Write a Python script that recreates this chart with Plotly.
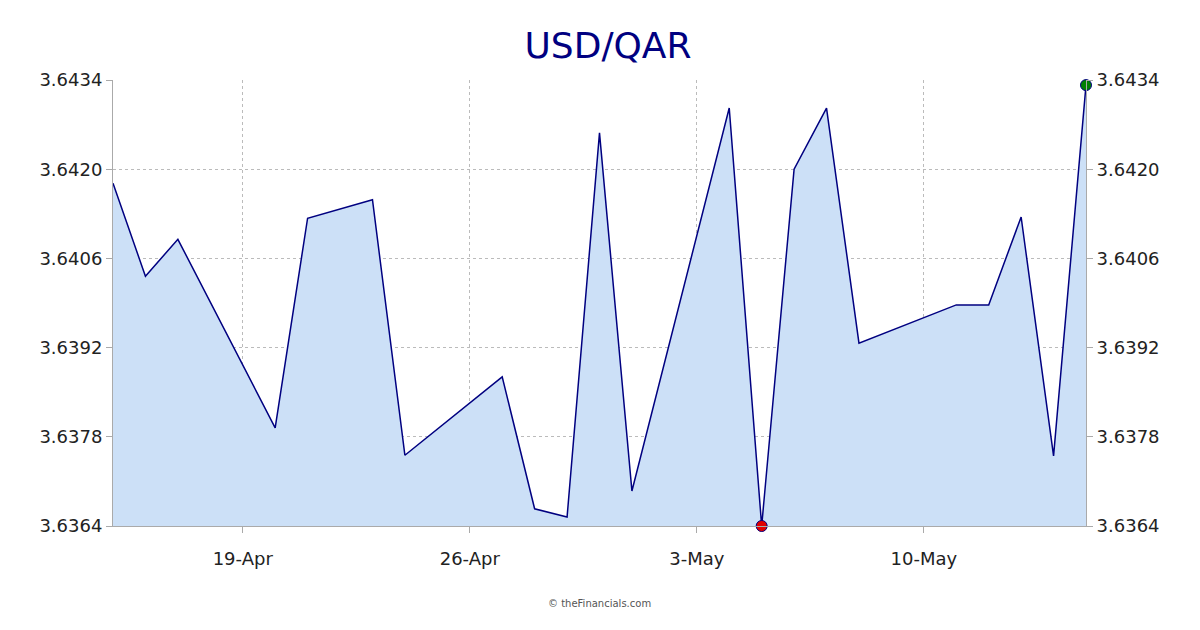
import plotly.graph_objects as go

dates = ["2025-04-15","2025-04-16","2025-04-17","2025-04-20","2025-04-21","2025-04-23","2025-04-24",
         "2025-04-27","2025-04-28","2025-04-29","2025-04-30","2025-05-01","2025-05-04","2025-05-05",
         "2025-05-06","2025-05-07","2025-05-08","2025-05-11","2025-05-12","2025-05-13","2025-05-14","2025-05-15"]
values = [3.64178,3.64032,3.6409,3.63794,3.64123,3.64152,3.63751,3.63874,3.63667,3.63654,3.64257,
          3.63695,3.64296,3.6364,3.6420,3.64296,3.63927,3.63987,3.63987,3.64125,3.63750,3.64332]
yticks = [3.6364,3.6378,3.6392,3.6406,3.6420,3.6434]
xticks = ["2025-04-19","2025-04-26","2025-05-03","2025-05-10"]
xlabels = ["19-Apr","26-Apr","3-May","10-May"]

imin = values.index(min(values))
fig = go.Figure()
fig.add_trace(go.Scatter(x=dates, y=values, mode="lines", line=dict(color="#000080", width=1.5),
                         fill="tozeroy", fillcolor="#cce0f7"))
fig.add_trace(go.Scatter(x=[dates[imin]], y=[values[imin]], mode="markers", cliponaxis=False,
                         marker=dict(color="#e00000", size=11, line=dict(color="#000080", width=1))))
fig.add_trace(go.Scatter(x=[dates[-1]], y=[values[-1]], mode="markers", cliponaxis=False,
                         marker=dict(color="#008000", size=11, line=dict(color="#000080", width=1))))
fig.add_trace(go.Scatter(x=dates, y=values, yaxis="y2", mode="lines", line=dict(width=0),
                         hoverinfo="skip", showlegend=False))
fig.update_layout(
    width=1200, height=630, showlegend=False, plot_bgcolor="white", paper_bgcolor="white",
    margin=dict(l=105, r=122, t=72, b=112),
    title=dict(text="USD/QAR", x=0.5, y=0.94, xanchor="center", yanchor="middle",
               font=dict(family="DejaVu Sans", size=36, color="#000080")),
    font=dict(family="DejaVu Sans", size=18, color="#222"),
    xaxis=dict(range=["2025-04-15","2025-05-15"], tickvals=xticks, ticktext=xlabels,
               showgrid=True, gridcolor="#bbb", griddash="dot", gridwidth=1, showline=True, linecolor="#aaa",
               ticks="outside", ticklen=6, tickcolor="#aaa", ticklabelstandoff=10),
    yaxis=dict(range=[3.6364,3.6434], tickvals=yticks, tickformat=".4f", showgrid=True,
               gridcolor="#bbb", griddash="dot", gridwidth=1, showline=True, linecolor="#aaa",
               ticks="outside", ticklen=6, tickcolor="#aaa"),
    yaxis2=dict(range=[3.6364,3.6434], tickvals=yticks, tickformat=".4f", overlaying="y", side="right",
                showgrid=False, showline=True, linecolor="#aaa", ticks="outside", ticklen=6, tickcolor="#aaa"),
    annotations=[dict(text="© theFinancials.com", x=0.5, y=-0.19, xref="paper", yref="paper",
                      showarrow=False, font=dict(size=10, color="#555"))],
)
fig.write_html("out.html")
